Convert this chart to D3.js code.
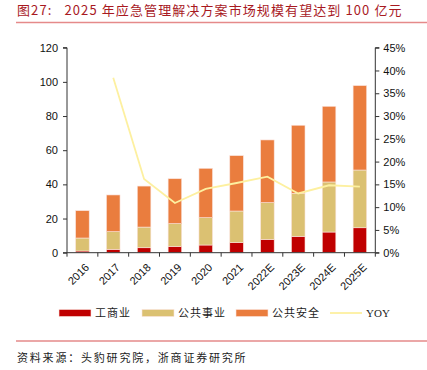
<!DOCTYPE html>
<html>
<head>
<meta charset="utf-8">
<script src="https://cdn.jsdelivr.net/npm/d3@7"></script>
<style>
  body { margin: 0; background: #fff; }
  svg { display: block; }
</style>
</head>
<body>
<div id="chart"></div>
<script>
// data
const years = ["2016", "2017", "2018", "2019", "2020", "2021", "2022E", "2023E", "2024E", "2025E"];
const industry = [1.0, 2.0, 2.9, 3.7, 4.5, 5.9, 7.8, 9.6, 12.1, 14.6];       // 工商业
const utility = [7.6, 10.3, 12.1, 13.3, 16.0, 18.5, 21.5, 25.2, 29.3, 33.8];  // 公共事业
const safety = [16.0, 21.5, 24.0, 26.3, 28.9, 32.4, 36.7, 39.8, 44.3, 49.4];  // 公共安全
const yoy = [null, 38.4, 16.2, 10.9, 14.0, 15.3, 16.7, 13.0, 14.8, 14.5];    // YOY, %
const leftTicks = [0, 20, 40, 60, 80, 100, 120];
const rightTicks = [0, 5, 10, 15, 20, 25, 30, 35, 40, 45];

const W = 427, H = 370;
const colors = { industry: "#c00000", utility: "#dbc172", safety: "#ea7d3e", yoy: "#fdf0a0" };
const cjk = "'Noto Sans CJK SC', sans-serif";

const svg = d3.select("#chart").append("svg")
  .attr("width", W)
  .attr("height", H);

// title and rules
svg.append("text")
  .attr("x", 17).attr("y", 15)
  .attr("fill", "#a8191f")
  .attr("font-family", cjk)
  .attr("font-size", 13)
  .attr("letter-spacing", 1.1)
  .style("white-space", "pre")
  .text("图27:   2025 年应急管理解决方案市场规模有望达到 100 亿元");

svg.append("line")
  .attr("x1", 16).attr("x2", W).attr("y1", 22.5).attr("y2", 22.5)
  .attr("stroke", "#e58a8a").attr("stroke-width", 1.5);

svg.append("line")
  .attr("x1", 16).attr("x2", W).attr("y1", 341).attr("y2", 341)
  .attr("stroke", "#e58a8a").attr("stroke-width", 1.5);

svg.append("text")
  .attr("x", 17).attr("y", 362)
  .attr("fill", "#222")
  .attr("font-family", cjk)
  .attr("font-size", 11)
  .attr("letter-spacing", 1.8)
  .text("资料来源：头豹研究院，浙商证券研究所");

// scales
const plot = { left: 67, right: 375.3, top: 47.7, bottom: 252.7 };

const x = d3.scaleBand()
  .domain(years)
  .range([plot.left, plot.right])
  .paddingInner(0.56)
  .paddingOuter(0.28);

const yL = d3.scaleLinear().domain([0, 120]).range([plot.bottom, plot.top]);
const yR = d3.scaleLinear().domain([0, 45]).range([plot.bottom, plot.top]);

// stacked bars
const rows = years.map((y, i) => ({ year: y, industry: industry[i], utility: utility[i], safety: safety[i] }));
const keys = ["industry", "utility", "safety"];
const stacked = d3.stack().keys(keys)(rows);

svg.append("g")
  .selectAll("g")
  .data(stacked)
  .join("g")
  .attr("fill", d => colors[d.key])
  .selectAll("rect")
  .data(d => d)
  .join("rect")
  .attr("x", d => x(d.data.year))
  .attr("width", x.bandwidth())
  .attr("y", d => yL(d[1]))
  .attr("height", d => yL(d[0]) - yL(d[1]))
  .attr("stroke", "#fbe3dc")
  .attr("stroke-width", 0.6);

// yoy line
const line = d3.line()
  .defined(d => d.v != null)
  .x(d => x(d.year) + x.bandwidth() / 2)
  .y(d => yR(d.v));

svg.append("path")
  .datum(years.map((y, i) => ({ year: y, v: yoy[i] })))
  .attr("fill", "none")
  .attr("stroke", colors.yoy)
  .attr("stroke-width", 1.8)
  .attr("d", line);

// axes
const axisFont = "'Liberation Sans', Arial, sans-serif";

const gL = svg.append("g")
  .attr("transform", `translate(${plot.left},0)`)
  .call(d3.axisLeft(yL).tickValues(leftTicks).tickSize(4).tickPadding(5));

const gR = svg.append("g")
  .attr("transform", `translate(${plot.right},0)`)
  .call(d3.axisRight(yR).tickValues(rightTicks).tickSize(4).tickPadding(4).tickFormat(d => d + "%"));

// x axis: ticks on band edges, labels rotated
const gX = svg.append("g").attr("transform", `translate(0,${plot.bottom})`);
gX.append("line")
  .attr("x1", plot.left).attr("x2", plot.right)
  .attr("stroke", "#333");
const edges = d3.range(years.length + 1).map(i => plot.left + i * (plot.right - plot.left) / years.length);
gX.selectAll(".edge")
  .data(edges)
  .join("line")
  .attr("class", "edge")
  .attr("x1", d => d).attr("x2", d => d)
  .attr("y1", 0).attr("y2", 4)
  .attr("stroke", "#333");
gX.selectAll(".lbl")
  .data(years)
  .join("text")
  .attr("class", "lbl")
  .attr("transform", d => `translate(${x(d) + x.bandwidth() / 2 + 2},${10}) rotate(-45)`)
  .attr("text-anchor", "end")
  .attr("dy", "0.7em")
  .attr("font-family", axisFont)
  .attr("font-size", 11)
  .attr("fill", "#111")
  .text(d => d);

[gL, gR].forEach(g => {
  g.selectAll("text").attr("font-family", axisFont).attr("font-size", 11).attr("fill", "#111");
  g.selectAll("line, path").attr("stroke", "#333");
});
gL.select(".domain").attr("d", `M-4,${plot.top}H0V${plot.bottom}H-4`);
gR.select(".domain").attr("d", `M4,${plot.top}H0V${plot.bottom}H4`);

// legend
const legendItems = [
  { label: "工商业", color: colors.industry, x: 59, type: "rect" },
  { label: "公共事业", color: colors.utility, x: 142, type: "rect" },
  { label: "公共安全", color: colors.safety, x: 236, type: "rect" },
  { label: "YOY", color: colors.yoy, x: 330, type: "line" }
];
const lg = svg.append("g").attr("transform", "translate(0,313)");
legendItems.forEach(it => {
  if (it.type === "rect") {
    lg.append("rect")
      .attr("x", it.x).attr("y", -3.5)
      .attr("width", 32).attr("height", 7)
      .attr("fill", it.color)
      .attr("stroke", "#fbe3dc").attr("stroke-width", 0.6);
  } else {
    lg.append("line")
      .attr("x1", it.x).attr("x2", it.x + 32)
      .attr("stroke", it.color).attr("stroke-width", 1.8);
  }
  lg.append("text")
    .attr("x", it.x + 36).attr("y", 4)
    .attr("font-family", it.type === "line" ? "'Liberation Serif', serif" : cjk)
    .attr("font-size", 11)
    .attr("letter-spacing", it.type === "line" ? 0 : 1)
    .attr("fill", "#222")
    .text(it.label);
});
</script>
</body>
</html>
